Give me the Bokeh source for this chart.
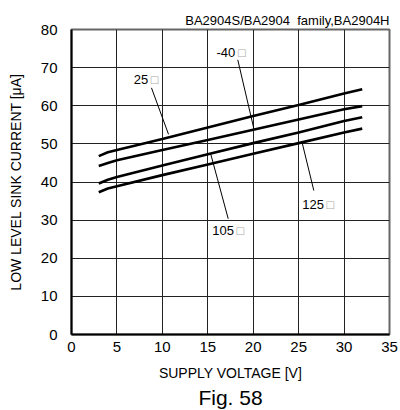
from bokeh.plotting import figure
from bokeh.models import Range1d, FixedTicker, Title
from bokeh.core.properties import value
from bokeh.embed import file_html
from bokeh.resources import INLINE

# ---- data ----
voltage = [3, 4, 5, 10, 15, 20, 25, 30, 32]
i_25 = [46.8, 47.8, 48.4, 51.3, 54.3, 57.3, 60.2, 63.2, 64.3]
i_m40 = [44.2, 45.0, 45.7, 48.4, 51.0, 53.7, 56.4, 59.1, 59.9]
i_105 = [39.6, 40.6, 41.3, 44.3, 47.3, 50.2, 53.0, 56.0, 57.0]
i_125 = [37.3, 38.3, 38.9, 41.8, 44.6, 47.4, 50.2, 53.0, 54.0]
series_names = ["25", "-40", "105", "125"]
x_ticks = [0, 5, 10, 15, 20, 25, 30, 35]
y_ticks = [0, 10, 20, 30, 40, 50, 60, 70, 80]

# ---- annotation layout (label anchor and leader line, in data units) ----
label_pos = {"25": (6.86, 66.9), "-40": (15.96, 73.9), "105": (15.49, 27.3), "125": (25.4, 34.1)}
leaders = {"25": ((8.8, 10.68), (64.7, 52.5)),
           "-40": ((18.3, 20.06), (72.05, 54.1)),
           "105": ((15.3, 17.25), (47.55, 30.35)),
           "125": ((25.39, 26.67), (50.28, 37.77))}

FONT = "Liberation Sans"
W, H = 400, 410

p = figure(width=W, height=H, output_backend="svg", toolbar_location=None,
           x_range=Range1d(0, 35), y_range=Range1d(0, 80),
           min_border_left=71, min_border_right=11, min_border_top=29, min_border_bottom=76)
p.background_fill_color = "white"
p.border_fill_color = "white"
p.outline_line_color = "#666666"
p.outline_line_width = 2

for ax in (p.xaxis[0], p.yaxis[0]):
    ax.major_tick_out = 0
    ax.major_tick_in = 0
    ax.minor_tick_out = 0
    ax.minor_tick_in = 0
    ax.axis_line_color = "black"
    ax.axis_line_width = 2
    ax.major_label_text_font = FONT
    ax.major_label_text_font_size = "15px"
    ax.major_label_text_color = "black"
    ax.axis_label_text_font = FONT
    ax.axis_label_text_font_size = "14px"
    ax.axis_label_text_font_style = "normal"
    ax.axis_label_text_color = "black"

p.xaxis.ticker = FixedTicker(ticks=x_ticks)
p.yaxis.ticker = FixedTicker(ticks=y_ticks)
p.xaxis.axis_label = "SUPPLY VOLTAGE [V]"
p.yaxis.axis_label = "LOW LEVEL SINK CURRENT [μA]"
p.xaxis.major_label_standoff = 7
p.yaxis.major_label_standoff = 14
p.xaxis.axis_label_standoff = 10
p.yaxis.axis_label_standoff = 14

p.xgrid.grid_line_color = "#222222"
p.ygrid.grid_line_color = "#222222"
p.xgrid.grid_line_width = 1
p.ygrid.grid_line_width = 1

for ys in (i_25, i_m40, i_105, i_125):
    p.line(voltage, ys, line_color="black", line_width=2.6)

num_w = {"25": 14.5, "-40": 19.0, "105": 21.7, "125": 21.7}
for name in series_names:
    xs, ys = leaders[name]
    p.line(list(xs), list(ys), line_color="black", line_width=1)
    lx, ly = label_pos[name]
    p.text(x=[lx], y=[ly], text=[name], text_font=value(FONT), text_font_size="13px",
           text_color="black", text_align="left", text_baseline="middle")
    p.text(x=[lx], y=[ly], text=["\u25a1"], text_font=value("DejaVu Sans"), text_font_size="10px",
           text_color="#aaaaaa", text_align="left", text_baseline="middle", x_offset=num_w[name] + 1.5)

p.title.text = "BA2904S/BA2904\u00a0 family,BA2904H"
p.title.align = "right"
p.title.text_font = FONT
p.title.text_font_size = "13px"
p.title.text_font_style = "normal"
p.title.text_color = "black"
p.title.standoff = 3

fig_title = Title(text="Fig. 58", align="center", text_font=FONT, text_font_size="21px",
                  text_font_style="normal", text_color="black", standoff=0)
p.add_layout(fig_title, "below")

open("out.html", "w").write(file_html(p, INLINE))
